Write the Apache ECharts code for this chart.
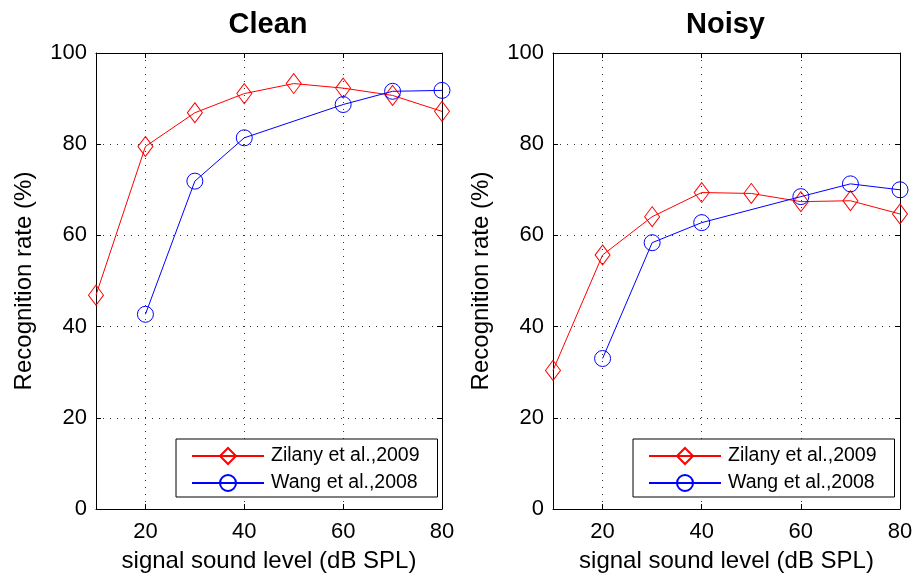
<!DOCTYPE html>
<html>
<head>
<meta charset="utf-8">
<script src="https://cdn.jsdelivr.net/npm/echarts@6/dist/echarts.min.js"></script>
<style>html,body{margin:0;padding:0;background:#fff}#c{width:916px;height:579px}</style>
</head>
<body>
<div id="c"></div>
<script>
const titles = ['Clean', 'Noisy'];
const zilanyX = [10, 20, 30, 40, 50, 60, 70, 80];
const wangX = [20, 30, 40, 60, 70, 80];
const cleanZilany = [46.9, 79.5, 86.9, 91.1, 93.3, 92.3, 90.7, 87.2];
const cleanWang = [42.7, 71.9, 81.4, 88.7, 91.6, 91.8];
const noisyZilany = [30.4, 55.7, 64.1, 69.4, 69.2, 67.4, 67.6, 64.7];
const noisyWang = [33.0, 58.4, 62.8, 68.5, 71.3, 70.0];
const xTickValues = [20, 40, 60, 80];
const xGridValues = [20, 40, 60];
const yTickValues = [0, 20, 40, 60, 80, 100];
const nameZ = 'Zilany et al.,2009';
const nameW = 'Wang et al.,2008';
const xName = 'signal sound level (dB SPL)';
const yName = 'Recognition rate (%)';

const FONT = "'Liberation Sans', Arial, sans-serif";
const grids = [
  {left: 96, top: 53, width: 346, height: 456},
  {left: 553, top: 53, width: 347, height: 456}
];
const pair = (xs, ys) => xs.map((x, i) => [x, ys[i]]);
const dotted = {color: '#333', width: 1, type: [1, 6]};

const xAxes = [], yAxes = [], series = [];
grids.forEach((g, i) => {
  xAxes.push({
    gridIndex: i, type: 'value', min: 10, max: 80, interval: 10,
    axisLine: {show: true, onZero: false, lineStyle: {color: '#000', width: 1}},
    axisTick: {show: true, inside: true, length: 5, customValues: xTickValues, lineStyle: {color: '#000'}},
    axisLabel: {customValues: xTickValues, fontFamily: FONT, fontSize: 22, color: '#000', margin: 12},
    splitLine: {show: true, customValues: xGridValues, lineStyle: dotted},
    name: xName, nameLocation: 'middle', nameGap: 40,
    nameTextStyle: {fontFamily: FONT, fontSize: 24, color: '#000'}
  });
  xAxes.push({
    gridIndex: i, type: 'value', min: 10, max: 80, interval: 10, position: 'top',
    axisLine: {show: true, onZero: false, lineStyle: {color: '#000', width: 1}},
    axisTick: {show: true, inside: true, length: 5, customValues: xTickValues, lineStyle: {color: '#000'}},
    axisLabel: {show: false}, splitLine: {show: false}
  });
  yAxes.push({
    gridIndex: i, type: 'value', min: 0, max: 100, interval: 20,
    axisLine: {show: true, onZero: false, lineStyle: {color: '#000', width: 1}},
    axisTick: {show: true, inside: true, length: 5, customValues: yTickValues, lineStyle: {color: '#000'}},
    axisLabel: {customValues: yTickValues, fontFamily: FONT, fontSize: 22, color: '#000', margin: 9},
    splitLine: {show: true, lineStyle: dotted},
    name: yName, nameLocation: 'middle', nameGap: 60,
    nameTextStyle: {fontFamily: FONT, fontSize: 24, color: '#000'}
  });
  yAxes.push({
    gridIndex: i, type: 'value', min: 0, max: 100, interval: 20, position: 'right',
    axisLine: {show: true, onZero: false, lineStyle: {color: '#000', width: 1}},
    axisTick: {show: true, inside: true, length: 5, lineStyle: {color: '#000'}},
    axisLabel: {show: false}, splitLine: {show: false}
  });
});

const sets = [[cleanZilany, cleanWang], [noisyZilany, noisyWang]];
sets.forEach((s, i) => {
  series.push({
    name: nameZ, type: 'line', xAxisIndex: i * 2, yAxisIndex: i * 2,
    data: pair(zilanyX, s[0]), symbol: 'diamond', symbolSize: [15, 20],
    lineStyle: {color: '#ff0000', width: 1},
    itemStyle: {color: 'rgba(255,255,255,0)', borderColor: '#ff0000', borderWidth: 1},
    emphasis: {disabled: true},
    animation: false, z: 3
  });
  series.push({
    name: nameW, type: 'line', xAxisIndex: i * 2, yAxisIndex: i * 2,
    data: pair(wangX, s[1]), symbol: 'circle', symbolSize: 16,
    lineStyle: {color: '#0000ff', width: 1},
    itemStyle: {color: 'rgba(255,255,255,0)', borderColor: '#0000ff', borderWidth: 1},
    emphasis: {disabled: true},
    animation: false, z: 4
  });
});

const legendBase = {
  orient: 'vertical', data: [nameZ, nameW], itemWidth: 72, itemHeight: 20, itemGap: 7,
  borderColor: '#000', borderWidth: 1, backgroundColor: '#fff', borderRadius: 0,
  padding: [7, 18, 4, 15], selectedMode: false,
  textStyle: {fontFamily: FONT, fontSize: 19.5, color: '#000', padding: [0, 0, 0, 2]}
};

const option = {
  backgroundColor: '#fff',
  animation: false,
  title: titles.map((t, i) => ({
    text: t, left: grids[i].left + grids[i].width / 2 - 1, top: 10, textAlign: 'center', padding: 0,
    textStyle: {fontFamily: FONT, fontSize: 29, fontWeight: 'bold', color: '#000'}
  })),
  grid: grids,
  xAxis: xAxes,
  yAxis: yAxes,
  legend: [
    Object.assign({}, legendBase, {left: 176, top: 439}),
    Object.assign({}, legendBase, {left: 633, top: 439})
  ],
  series: series
};
const chart = echarts.init(document.getElementById('c'), null, {renderer: 'canvas'});
chart.setOption(option);
</script>
</body>
</html>
